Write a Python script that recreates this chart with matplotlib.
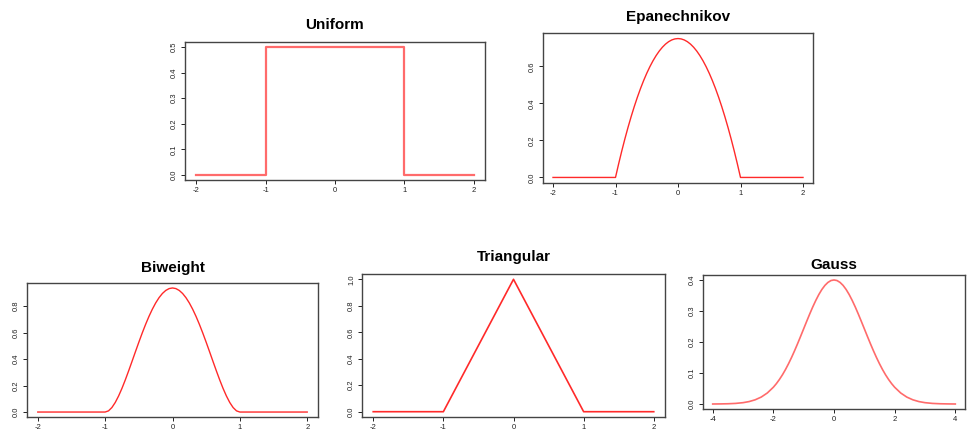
import matplotlib
matplotlib.use("Agg")
import matplotlib.pyplot as plt

plt.rcParams['font.family'] = ['Liberation Sans', 'DejaVu Sans']

# Uniform kernel (step)
uni_x = [-2, -1, -1, 1, 1, 2]
uni_y = [0, 0, 0.5, 0.5, 0, 0]

# Epanechnikov, read at steps of 0.05 on [-1, 1]
epa_x = [-2, -1, -0.95, -0.9, -0.85, -0.8, -0.75, -0.7, -0.65, -0.6, -0.55, -0.5,
         -0.45, -0.4, -0.35, -0.3, -0.25, -0.2, -0.15, -0.1, -0.05, 0,
         0.05, 0.1, 0.15, 0.2, 0.25, 0.3, 0.35, 0.4, 0.45, 0.5,
         0.55, 0.6, 0.65, 0.7, 0.75, 0.8, 0.85, 0.9, 0.95, 1, 2]
epa_y = [0, 0, 0.0731, 0.1425, 0.2081, 0.27, 0.3281, 0.3825, 0.4331, 0.48, 0.5231, 0.5625,
         0.5981, 0.63, 0.6581, 0.6825, 0.7031, 0.72, 0.7331, 0.7425, 0.7481, 0.75,
         0.7481, 0.7425, 0.7331, 0.72, 0.7031, 0.6825, 0.6581, 0.63, 0.5981, 0.5625,
         0.5231, 0.48, 0.4331, 0.3825, 0.3281, 0.27, 0.2081, 0.1425, 0.0731, 0, 0]

# Biweight, same grid
bw_x = epa_x
bw_y = [0, 0, 0.0089, 0.0338, 0.0722, 0.1215, 0.1794, 0.2438, 0.3127, 0.384, 0.4561, 0.5273,
        0.5963, 0.6615, 0.7219, 0.7763, 0.824, 0.864, 0.8958, 0.9188, 0.9328, 0.9375,
        0.9328, 0.9188, 0.8958, 0.864, 0.824, 0.7763, 0.7219, 0.6615, 0.5963, 0.5273,
        0.4561, 0.384, 0.3127, 0.2438, 0.1794, 0.1215, 0.0722, 0.0338, 0.0089, 0, 0]

# Triangular
tri_x = [-2, -1, 0, 1, 2]
tri_y = [0, 0, 1, 0, 0]

# Gauss
gau_x = [-4, -3.75, -3.5, -3.25, -3, -2.8, -2.6, -2.4, -2.2, -2, -1.9, -1.8, -1.7, -1.6,
         -1.5, -1.4, -1.3, -1.2, -1.1, -1, -0.9, -0.8, -0.7, -0.6, -0.5, -0.4, -0.3,
         -0.2, -0.1, 0, 0.1, 0.2, 0.3, 0.4, 0.5, 0.6, 0.7, 0.8, 0.9, 1, 1.1, 1.2, 1.3,
         1.4, 1.5, 1.6, 1.7, 1.8, 1.9, 2, 2.2, 2.4, 2.6, 2.8, 3, 3.25, 3.5, 3.75, 4]
gau_y = [0.0001, 0.0004, 0.0009, 0.0020, 0.0044, 0.0079, 0.0136, 0.0224, 0.0355, 0.0540,
         0.0656, 0.0790, 0.0940, 0.1109, 0.1295, 0.1497, 0.1714, 0.1942, 0.2179, 0.2420,
         0.2661, 0.2897, 0.3123, 0.3332, 0.3521, 0.3683, 0.3814, 0.3910, 0.3970, 0.3989,
         0.3970, 0.3910, 0.3814, 0.3683, 0.3521, 0.3332, 0.3123, 0.2897, 0.2661, 0.2420,
         0.2179, 0.1942, 0.1714, 0.1497, 0.1295, 0.1109, 0.0940, 0.0790, 0.0656, 0.0540,
         0.0355, 0.0224, 0.0136, 0.0079, 0.0044, 0.0020, 0.0009, 0.0004, 0.0001]

W, H = 968, 434
fig = plt.figure(figsize=(W / 100, H / 100), dpi=100)


def panel(box, title, x, y, xticks, yticks, ylim_top, color, lw, title_pad):
    l, t, r, b = box
    ax = fig.add_axes([l / W, 1 - b / H, (r - l) / W, (b - t) / H])
    ax.plot(x, y, color=color, lw=lw)
    xr = xticks[-1] - xticks[0]
    ax.set_xlim(xticks[0] - 0.04 * xr, xticks[-1] + 0.04 * xr)
    ax.set_ylim(-0.04 * ylim_top, ylim_top * 1.04)
    ax.set_xticks(xticks)
    ax.set_xticklabels([f"{v:g}" for v in xticks])
    ax.set_yticks(yticks)
    ax.set_yticklabels([f"{v:.1f}" for v in yticks], rotation=90, va='center')
    ax.tick_params(labelsize=5.5, length=3, width=0.7, colors='#222222', pad=2)
    for s in ax.spines.values():
        s.set_color('#444444')
        s.set_linewidth(1.0)
    ax.set_title(title, fontsize=11, fontweight='bold', pad=title_pad)
    return ax


panel((185, 42, 485, 180), "Uniform", uni_x, uni_y,
      [-2, -1, 0, 1, 2], [0, 0.1, 0.2, 0.3, 0.4, 0.5], 0.5, '#ff6b6b', 1.6, 9)
panel((543, 33, 813, 183), "Epanechnikov", epa_x, epa_y,
      [-2, -1, 0, 1, 2], [0, 0.2, 0.4, 0.6], 0.75, '#ff2a2a', 1.0, 9)
panel((27, 283, 318, 417), "Biweight", bw_x, bw_y,
      [-2, -1, 0, 1, 2], [0, 0.2, 0.4, 0.6, 0.8], 0.9375, '#ff2a2a', 1.0, 8)
panel((362, 274, 665, 417), "Triangular", tri_x, tri_y,
      [-2, -1, 0, 1, 2], [0, 0.2, 0.4, 0.6, 0.8, 1.0], 1.0, '#ff2a2a', 1.2, 9)
panel((703, 275, 965, 409), "Gauss", gau_x, gau_y,
      [-4, -2, 0, 2, 4], [0, 0.1, 0.2, 0.3, 0.4], 0.3989, '#ff6b6b', 1.2, 4)

fig.savefig("out.png", dpi=100)
